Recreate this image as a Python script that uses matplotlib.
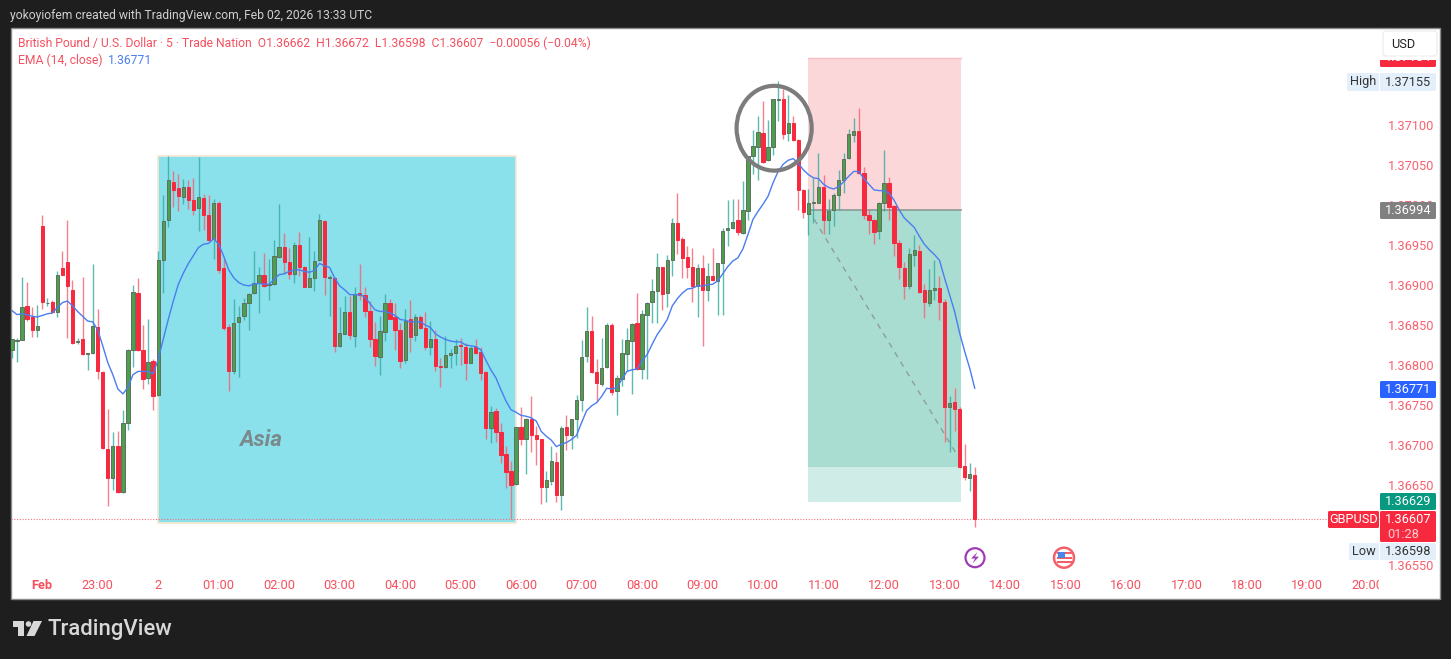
import numpy as np
import matplotlib.pyplot as plt
from matplotlib.patches import Rectangle, Circle, Ellipse, Polygon, FancyBboxPatch
from matplotlib.transforms import Affine2D, Bbox

plt.rcParams["font.family"] = ["Roboto", "DejaVu Sans"]

# prices in points (1e-5), one value per 5 minute candle
opens = [136819,136830,136831,136874,136860,136844,136974,136877,136879,136866,
136921,136929,136894,136829,136832,136814,136815,136847,136791,136695,
136659,136699,136641,136727,136819,136890,136819,136784,136805,136762,
136931,136981,137029,137021,137010,137022,137006,136996,137009,136988,
136957,137003,136921,136847,136792,136854,136861,136877,136890,136902,
136912,136900,136901,136935,136948,136929,136914,136950,136922,136897,
136909,136931,136980,136909,136909,136824,136839,136866,136836,136890,
136888,136868,136833,136810,136841,136877,136860,136844,136806,136857,
136837,136860,136846,136822,136832,136799,136797,136812,136815,136825,
136823,136803,136822,136816,136791,136721,136742,136716,136689,136668,
136651,136723,136708,136732,136713,136707,136647,136655,136679,136637,
136722,136713,136732,136756,136811,136843,136791,136776,136797,136850,
136767,136783,136814,136830,136852,136795,136863,136879,136892,136922,
136890,136931,136977,136957,136935,136922,136899,136921,136894,136911,
136905,136927,136969,136971,136981,136965,136993,137061,137073,137090,
137056,137073,137131,137133,137090,137103,137081,137019,136989,137002,
137003,137023,136981,136994,137013,137031,137059,137087,137093,137040,
136987,136981,136967,137003,137027,136999,136952,136921,136899,136938,
136942,136894,136878,136894,136896,136879,136748,136754,136745,136674,
136659,136662]

closes = [136832,136831,136873,136858,136844,136849,136879,136878,136866,136913,
136913,136899,136827,136830,136814,136815,136849,136792,136696,136659,
136699,136641,136727,136819,136891,136819,136782,136804,136761,136931,
136980,137031,137019,137011,137022,137006,136994,137010,136988,136956,
137002,136919,136846,136792,136853,136860,136877,136889,136903,136912,
136899,136901,136936,136948,136929,136914,136950,136922,136897,136909,
136930,136981,136910,136910,136824,136840,136866,136837,136889,136887,
136867,136832,136811,136843,136878,136858,136844,136805,136855,136835,
136860,136846,136822,136832,136799,136798,136812,136815,136824,136824,
136802,136821,136815,136790,136721,136741,136716,136688,136666,136650,
136723,136707,136733,136713,136707,136647,136656,136680,136637,136721,
136713,136732,136756,136810,136843,136791,136777,136796,136850,136766,
136784,136815,136831,136851,136795,136864,136878,136893,136923,136889,
136931,136978,136956,136934,136922,136899,136921,136894,136911,136906,
136928,136968,136971,136979,136966,136994,137061,137074,137091,137054,
137073,137132,137132,137089,137103,137081,137019,136991,137003,137004,
137022,136981,136993,137013,137031,137058,137089,137093,137040,136987,
136981,136966,137003,137028,136997,136952,136922,136899,136939,136944,
136891,136879,136894,136896,136879,136747,136753,136745,136672,136660,
136664,136607]

highs = [136832,136834,136910,136904,136873,136875,136987,136884,136881,136918,
136943,136981,136906,136834,136910,136815,136926,136870,136792,136745,
136716,136717,136744,136820,136900,136909,136850,136857,136807,136943,
137013,137061,137042,137039,137033,137031,137034,137060,137014,137013,
137008,137005,136932,136851,136883,136874,136884,136890,136943,136923,
136940,136933,136956,137001,136965,136946,136954,136966,136924,136960,
136942,136989,136981,136912,136910,136872,136886,136886,136897,136926,
136897,136880,136854,136861,136889,136882,136877,136852,136870,136881,
136864,136863,136866,136855,136844,136809,136836,136820,136832,136834,
136827,136824,136832,136822,136792,136749,136746,136727,136699,136680,
136723,136748,136734,136761,136724,136708,136667,136699,136691,136724,
136738,136733,136762,136831,136872,136861,136808,136834,136853,136853,
136788,136833,136846,136852,136890,136869,136879,136908,136940,136923,
136938,136984,137015,136960,136949,136946,136926,136938,136928,136946,
136928,136971,137006,137008,137008,137030,137061,137094,137111,137130,
137106,137133,137155,137145,137138,137111,137082,137020,137020,137034,
137065,137038,137008,137015,137044,137065,137095,137109,137121,137047,
136995,136982,137004,137069,137035,137000,136956,136929,136946,136963,
136950,136901,136920,136931,136911,136882,136761,136771,136747,136701,
136677,136672]

lows = [136809,136804,136831,136855,136835,136835,136870,136874,136865,136860,
136912,136834,136826,136826,136813,136794,136814,136783,136695,136624,
136644,136640,136640,136719,136797,136818,136770,136776,136744,136761,
136890,136972,136998,136992,137001,136995,136988,136967,136969,136955,
136932,136915,136844,136767,136789,136785,136856,136844,136889,136865,
136898,136881,136900,136934,136914,136907,136903,136911,136897,136897,
136892,136930,136888,136861,136816,136823,136839,136833,136822,136881,
136860,136823,136799,136787,136830,136857,136819,136796,136803,136816,
136830,136845,136819,136813,136793,136772,136796,136796,136800,136800,
136781,136802,136814,136781,136708,136702,136704,136678,136646,136607,
136650,136700,136664,136691,136675,136626,136629,136650,136629,136619,
136694,136695,136709,136742,136804,136790,136754,136774,136796,136762,
136737,136774,136793,136764,136794,136783,136782,136853,136852,136869,
136872,136911,136939,136909,136909,136879,136860,136824,136880,136905,
136863,136863,136949,136970,136963,136964,136981,137039,137031,137053,
137055,137062,137105,137082,137080,137080,136994,136984,136962,136977,
137003,136964,136964,136974,136994,137015,137058,137079,137039,136983,
136964,136951,136958,136992,136981,136936,136908,136883,136895,136924,
136890,136859,136874,136881,136856,136704,136691,136718,136671,136656,
136643,136598]

ema = [136868,136863,136864,136863,136861,136860,136862,136864,136865,136872,
136878,136880,136874,136867,136861,136855,136854,136844,136824,136803,
136788,136770,136764,136772,136788,136792,136792,136792,136789,136807,
136832,136857,136880,136901,136915,136927,136937,136947,136951,136952,
136958,136951,136936,136919,136909,136903,136900,136899,136901,136902,
136901,136901,136907,136913,136914,136917,136919,136919,136917,136916,
136918,136927,136924,136922,136909,136899,136894,136888,136888,136888,
136885,136877,136869,136867,136867,136865,136862,136857,136856,136854,
136854,136854,136850,136847,136839,136835,136832,136830,136829,136829,
136825,136824,136823,136819,136806,136794,136784,136769,136755,136744,
136741,136737,136736,136734,136730,136717,136711,136706,136698,136701,
136703,136707,136712,136728,136743,136749,136753,136761,136771,136770,
136772,136782,136792,136794,136795,136805,136813,136826,136838,136847,
136857,136874,136883,136890,136895,136896,136899,136899,136900,136901,
136905,136914,136923,136930,136934,136945,136963,136982,136992,137001,
137011,137028,137042,137051,137056,137058,137052,137044,137038,137034,
137033,137026,137022,137020,137023,137029,137036,137042,137042,137033,
137026,137019,137018,137018,137015,137006,136994,136984,136978,136972,
136961,136951,136944,136938,136931,136909,136888,136867,136840,136817,
136796,136771]

price_ticks = [136550 + 50 * k for k in range(14)]
time_ticks = [-23, -12, 0] + [12 * k for k in range(1, 21)]
time_labels = ["Feb", "23:00", "2"] + ["%02d:00" % k for k in range(1, 21)]

W, H = 1451, 659
RED = "#f7293f"
GREEN = "#4c9f4c"
TEAL = "#35ab9b"
LABEL_RED = "#f7616f"

fig = plt.figure(figsize=(W / 100, H / 100), dpi=100, facecolor="#1e1e1e")
px = Affine2D().scale(1 / W, -1 / H).translate(0, 1) + fig.transFigure

fig.add_artist(Rectangle((10.5, 27.5), 1429, 571, transform=px, fc="white", ec="#8a8a8a", lw=1, zorder=-1))

ax = fig.add_axes([11 / W, (H - 571.5) / H, 1369 / W, 544 / H])
ax.patch.set_alpha(0)
for s in ax.spines.values():
    s.set_visible(False)

x = np.arange(-29, 163)
o, h, l, c = [np.array(v) / 1e5 for v in (opens, highs, lows, closes)]
up = c >= o

# boxes from the drawing tools
ax.add_patch(Rectangle((0, 1.36602), 71, 1.37061 - 1.36602, fc="#8ae1eb", ec="#f6e8cf", lw=1.2, zorder=1))
ax.add_patch(Rectangle((129, 1.36994), 30.2, 1.37184 - 1.36994, fc="#fbd7da", ec="none", zorder=1))
ax.plot([129, 159.2], [1.37184, 1.37184], color="#f9bfc5", lw=1, zorder=1)
ax.add_patch(Rectangle((129, 1.36673), 30.2, 1.36994 - 1.36673, fc="#a9ddd2", ec="none", zorder=1))
ax.add_patch(Rectangle((129, 1.36629), 30.2, 1.36673 - 1.36629, fc="#d0ece6", ec="none", zorder=1))
ax.plot([129, 159.2], [1.36994, 1.36994], color="#8a9a96", lw=1.2, zorder=1.5)
ax.plot([129, 160], [1.36994, 1.36672], color="#8a9f9a", lw=1, ls=(0, (4, 4)), zorder=1.5)

ax.axhline(c[-1], xmin=0, xmax=1, color="#f4707f", lw=0.8, ls=(0, (1, 1.5)), zorder=1.6)

ax.vlines(x[up], l[up], h[up], color=TEAL, lw=1.0, alpha=0.8, zorder=2)
ax.vlines(x[~up], l[~up], h[~up], color="#f6606f", lw=1.0, alpha=0.8, zorder=2)
ax.bar(x[up], (c - o)[up], bottom=o[up], width=0.66, color=GREEN, edgecolor="#5f6f5f", lw=0.7, zorder=3)
ax.bar(x[~up], (c - o)[~up], bottom=o[~up], width=0.66, color=RED, edgecolor=RED, lw=0.7, zorder=3)

ax.plot(x, np.array(ema) / 1e5, color="#4a7df0", lw=1.0, zorder=4)

ax.add_patch(Ellipse((122.2, 1.37096), 14.9, 0.00106, fc="none", ec="#7c7c7c", lw=3, zorder=5))
ax.text(20.4, 1.36706, "Asia", fontsize=16, fontweight="bold", style="italic",
        color="#7b898c", ha="center", va="center", zorder=2)

ax.set_xlim(-29.2, 242.4)
ax.set_ylim(1.365419, 1.372219)
ax.yaxis.tick_right()
ax.set_yticks(np.array(price_ticks) / 1e5)
ax.set_yticklabels(["%.5f" % (v / 1e5) for v in price_ticks])
ax.set_xticks(time_ticks)
ax.set_xticklabels(time_labels)
ax.tick_params(axis="y", length=0, pad=6, labelsize=9.2, labelcolor=LABEL_RED)
ax.tick_params(axis="x", length=0, pad=5.5, labelsize=9.2, labelcolor="#f5505f")
ax.get_xticklabels()[0].set_fontweight("bold")
for lab in ax.get_xticklabels():
    lab.set_clip_box(Bbox([[0, 0], [1379, H]]))
    lab.set_clip_on(True)


def tag(x0, y0, w, hgt, text, fc, tc, size=9.2, xt=None):
    fig.add_artist(FancyBboxPatch((x0 + 1, y0 + 1), w - 2, hgt - 2, boxstyle="round,pad=1,rounding_size=1.5",
                                  transform=px, fc=fc, ec="none", zorder=6))
    if xt is None:
        xt = x0 + w / 2
    fig.text(xt, y0 + hgt / 2, text, transform=px, color=tc, fontsize=size, ha="center", va="center", zorder=7)


# price scale tags
tag(1380, 48, 56, 19, "1.37184", "#f7293f", "white")
fig.add_artist(Rectangle((1380, 46), 58, 14, transform=px, fc="white", ec="none", zorder=6.4))
fig.add_artist(FancyBboxPatch((1384, 32), 52, 23, boxstyle="round,pad=1,rounding_size=3", transform=px,
                              fc="white", ec="#eeeeee", lw=1, zorder=6.5))
fig.text(1403, 44, "USD", transform=px, color="#222222", fontsize=9.2, ha="center", va="center", zorder=7)
tag(1347, 73, 32, 18, "High", "#e3f0fc", "#333333")
tag(1380, 73, 56, 18, "1.37155", "#e3f0fc", "#333333")
tag(1380, 202, 56, 17, "1.36994", "#808080", "white")
tag(1380, 381, 56, 17, "1.36771", "#2962ff", "white")
tag(1380, 493, 56, 17, "1.36629", "#089981", "white")
tag(1328, 511, 51, 17, "GBPUSD", RED, "white")
tag(1380, 511, 56, 31, "", RED, "white")
fig.text(1408, 519.5, "1.36607", transform=px, color="white", fontsize=9.2, ha="center", va="center", zorder=7)
fig.text(1403, 534, "01:28", transform=px, color="#fcd0d5", fontsize=9.2, ha="center", va="center", zorder=7)
tag(1349, 543, 30, 17, "Low", "#e3f0fc", "#333333")
tag(1380, 543, 56, 17, "1.36598", "#e3f0fc", "#333333")

# header and legend
fig.text(10, 15.5, "yokoyiofem created with TradingView.com, Feb 02, 2026 13:33 UTC", transform=px,
         color="#d0d0d0", fontsize=8.75, va="center")
fig.text(18, 43, "British Pound / U.S. Dollar \u00b7 5 \u00b7 Trade Nation  O1.36662  H1.36672  L1.36598  C1.36607  \u22120.00056 (\u22120.04%)",
         transform=px, color="#f4505f", fontsize=8.7, va="center")
fig.text(18, 60, "EMA (14, close)", transform=px, color="#f4505f", fontsize=8.7, va="center")
fig.text(108, 60, "1.36771", transform=px, color="#4a7df0", fontsize=8.7, va="center")

# event icons
fig.add_artist(Circle((975, 557.7), 9.5, transform=px, fc="white", ec="#a13cb8", lw=1.6, zorder=6))
fig.add_artist(Polygon([(977.5, 552), (971, 558.5), (975, 558.5), (972.5, 563.5), (979, 556.7), (975, 556.7)],
                       transform=px, fc="#a13cb8", ec="none", zorder=7))
fig.add_artist(Circle((1064, 557.7), 10, transform=px, fc="white", ec="#f4606a", lw=1.8, zorder=6))
for yy in (553, 557.5, 562):
    fig.add_artist(Rectangle((1056.5, yy - 1), 15, 2, transform=px, fc="#f4606a", ec="none", zorder=7))
fig.add_artist(Rectangle((1057.5, 551.5), 7, 6.5, transform=px, fc="#4a86e8", ec="none", zorder=8))

# TradingView logo
fig.add_artist(Polygon([(12.7, 621), (24, 621), (24, 636), (18.3, 636), (18.3, 626.7), (12.7, 626.7)],
                       transform=px, fc="#d8d8d8", ec="none"))
fig.add_artist(Circle((28.5, 624), 2.8, transform=px, fc="#d8d8d8", ec="none"))
fig.add_artist(Polygon([(33.5, 621), (42, 621), (34.5, 636), (26.5, 636)], transform=px, fc="#d8d8d8", ec="none"))
fig.text(48, 629, "TradingView", transform=px, color="#d8d8d8", fontsize=15.9, fontweight="medium", va="center")

fig.savefig("out.png", dpi=100, facecolor=fig.get_facecolor())
